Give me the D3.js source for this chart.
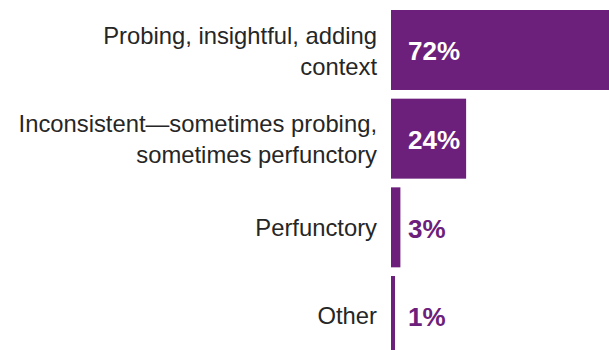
<!DOCTYPE html>
<html>
<head>
<meta charset="utf-8">
<script src="https://cdn.jsdelivr.net/npm/d3@7"></script>
<style>
  html, body { margin: 0; padding: 0; background: #fff; }
  svg { display: block; }
</style>
</head>
<body>
<svg id="chart" width="609" height="350"></svg>
<script>
// Response categories (each entry is the list of wrapped label lines)
const categories = [
  ["Probing, insightful, adding", "context"],
  ["Inconsistent\u2014sometimes probing,", "sometimes perfunctory"],
  ["Perfunctory"],
  ["Other"]
];
// Share of respondents, percent
const values = [72, 24, 3, 1];
const valueLabels = ["72%", "24%", "3%", "1%"];

const W = 609, H = 350;
const purple = "#6c207b";
const svg = d3.select("#chart");

const barLeft = 391;
const x = d3.scaleLinear().domain([0, 100]).range([barLeft, barLeft + 313]);
const y = d3.scaleBand()
  .domain(d3.range(categories.length))
  .range([10, 356])
  .paddingInner(0.098)
  .paddingOuter(0);

const rows = svg.selectAll("g.row")
  .data(values)
  .join("g")
  .attr("class", "row");

rows.append("rect")
  .attr("x", x(0))
  .attr("y", (d, i) => y(i))
  .attr("width", d => Math.max(4, x(d) - x(0)))
  .attr("height", y.bandwidth())
  .attr("fill", purple);

// Value labels: white inside wide bars, purple beside thin ones
rows.append("text")
  .attr("x", 408)
  .attr("y", (d, i) => y(i) + y.bandwidth() / 2)
  .attr("dy", "0.4em")
  .attr("font-family", "'Liberation Sans', Arial, sans-serif")
  .attr("font-weight", 700)
  .attr("font-size", 26)
  .attr("fill", d => (x(d) - x(0) > 60 ? "#fff" : purple))
  .text((d, i) => valueLabels[i]);

// Category labels, right-aligned against the bars
const lineH = 31;
rows.append("text")
  .attr("text-anchor", "end")
  .attr("font-family", "'Liberation Sans', Arial, sans-serif")
  .attr("font-size", 23.8)
  .attr("fill", "#262626")
  .each(function (d, i) {
    const lines = categories[i];
    const cy = y(i) + y.bandwidth() / 2;
    const top = cy - (lines.length - 1) * lineH / 2 + (lines.length > 1 ? 1 : 0);
    d3.select(this).selectAll("tspan")
      .data(lines)
      .join("tspan")
      .attr("x", 377)
      .attr("y", (l, k) => top + k * lineH)
      .attr("dy", "0.35em")
      .text(l => l);
  });
</script>
</body>
</html>
